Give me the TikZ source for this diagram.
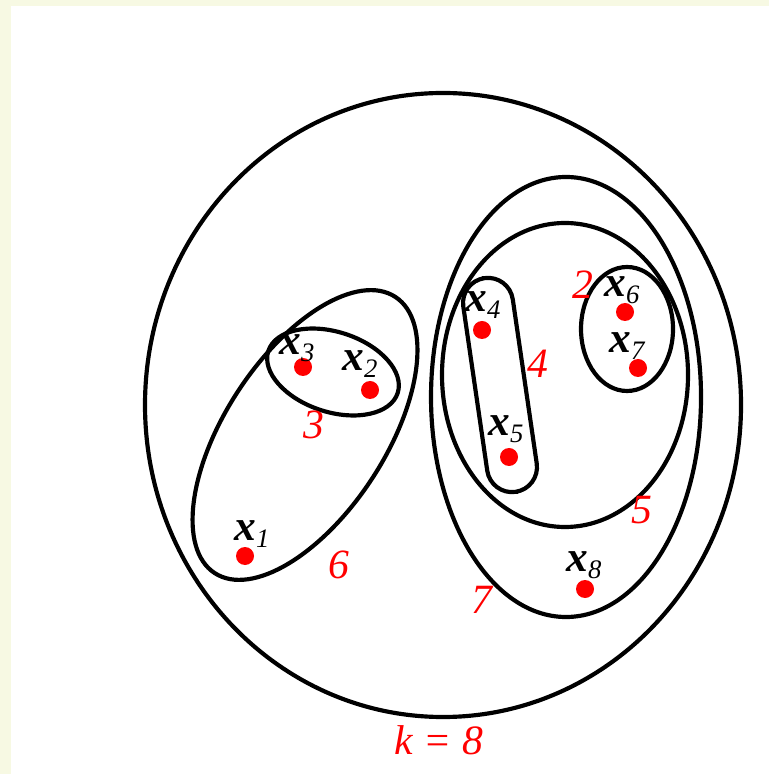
\documentclass[tikz,border=0pt]{standalone}
\usepackage{fontspec}
\setmainfont{Liberation Serif}
\usepackage{tikz}
\usetikzlibrary{positioning}
\definecolor{PaleFrame}{HTML}{F7F9E3}
\definecolor{DotRed}{HTML}{FF0000}
\newcommand{\xpt}[1]{{\fontsize{13}{14}\selectfont\bfseries\itshape x}\raisebox{-0.45ex}{\fontsize{8}{9}\selectfont\itshape #1}}

\begin{document}
\begin{tikzpicture}[
  x=0.3pt,y=-0.3pt,
  clus/.style={draw=black,line width=1.25pt},
  dot/.style={circle,fill=DotRed,inner sep=0pt,minimum size=5.4pt},
  plab/.style={inner sep=0pt,anchor=center},
  lvl/.style={text=DotRed,inner sep=0pt,font=\fontsize{12.5}{13}\selectfont\itshape}
]
% background and pale frame
\fill[PaleFrame] (0,0) rectangle (769,774);
\fill[white] (11,6) rectangle (769,774);
\useasboundingbox (0,0) rectangle (769,774);

% clusters
\draw[clus] (443,405) ellipse [x radius=298, y radius=312];
\draw[clus,rotate around={56.8:(305,435)}] (305,435) ellipse [x radius=165, y radius=80];
\draw[clus,rotate around={-18:(333,372)}] (333,372) ellipse [x radius=68, y radius=40];
\draw[clus] (566,397) ellipse [x radius=135, y radius=220];
\draw[clus] (565,375) ellipse [x radius=123, y radius=152];
\draw[clus,rounded corners=7.5pt,rotate around={8.3:(500,385)}] (475,277) rectangle (525,493);
\draw[clus] (627,329) ellipse [x radius=46, y radius=62];

% points
\node[dot] (p1) at (245,556) {};
\node[dot] (p2) at (370,390) {};
\node[dot] (p3) at (303,367) {};
\node[dot] (p4) at (482,330) {};
\node[dot] (p5) at (509,457) {};
\node[dot] (p6) at (625,312) {};
\node[dot] (p7) at (638,368) {};
\node[dot] (p8) at (585,589) {};

% point labels
\node[plab] (l1) at (252,534) {\xpt{1}};
\node[plab] (l2) at (360,364) {\xpt{2}};
\node[plab] (l3) at (297,348) {\xpt{3}};
\node[plab] (l4) at (483,305) {\xpt{4}};
\node[plab] (l5) at (506,429) {\xpt{5}};
\node[plab] (l6) at (622,290) {\xpt{6}};
\node[plab] (l7) at (627,346) {\xpt{7}};
\node[plab] (l8) at (584,565) {\xpt{8}};

% merge levels
\node[lvl] (m2) at (583,285) {2};
\node[lvl] (m3) at (314,425) {3};
\node[lvl] (m4) at (538,364) {4};
\node[lvl] (m5) at (642,510) {5};
\node[lvl] (m6) at (339,565) {6};
\node[lvl] (m7) at (482,600) {7};
\node[lvl] (mk) at (439,740) {k = 8};
\end{tikzpicture}
\end{document}
